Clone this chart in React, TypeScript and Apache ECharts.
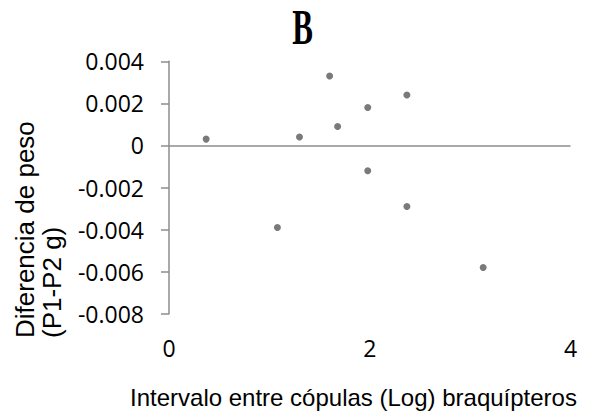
import React, { useEffect, useRef } from "react";
import * as echarts from "echarts";

const panelTitle = "B";
const xTitle = "Intervalo entre cópulas (Log) braquípteros";
const yTitleLines = ["Diferencia de peso", "(P1-P2 g)"];

const xValues = [0.37, 1.3, 1.6, 1.68, 1.98, 2.37, 1.98, 1.08, 2.37, 3.13];
const yValues = [0.0003, 0.0004, 0.0033, 0.0009, 0.0018, 0.0024, -0.0012, -0.0039, -0.0029, -0.0058];

const xMin = 0;
const xMax = 4;
const xStep = 2;
const yMin = -0.008;
const yMax = 0.004;
const yStep = 0.002;

export default function App() {
  const ref = useRef<HTMLDivElement>(null);
  useEffect(() => {
    if (!ref.current) return;
    const chart = echarts.init(ref.current, null, { renderer: "svg" });
    const points = xValues.map((x, i) => [x, yValues[i]]);
    const axisColor = "#8c8c8c";
    chart.setOption({
      animation: false,
      backgroundColor: "#ffffff",
      grid: { left: 169, right: 21.5, top: 61.3, bottom: 98.3, containLabel: false },
      xAxis: {
        type: "value",
        min: xMin,
        max: xMax,
        interval: xStep,
        axisLine: { show: false },
        axisTick: { show: false },
        splitLine: { show: false },
        axisLabel: {
          margin: 23,
          fontFamily: "Open Sans",
          fontSize: 23,
          color: "#000000",
        },
      },
      yAxis: {
        type: "value",
        min: yMin,
        max: yMax,
        interval: yStep,
        axisLine: { show: true, lineStyle: { color: axisColor, width: 1.5 } },
        axisTick: { show: true, inside: false, length: 8, lineStyle: { color: axisColor, width: 1.5 } },
        splitLine: { show: false },
        axisLabel: {
          margin: 25,
          fontFamily: "Open Sans",
          fontSize: 23,
          color: "#000000",
          formatter: (v: number) => (Math.abs(v) < 1e-12 ? "0" : v.toFixed(3)),
        },
      },
      series: [
        {
          type: "scatter",
          data: points,
          symbol: "circle",
          symbolSize: 7,
          itemStyle: { color: "#595959" },
          markLine: {
            silent: true,
            symbol: "none",
            label: { show: false },
            lineStyle: { color: axisColor, width: 1.5, type: "solid" },
            data: [{ yAxis: 0 }],
          },
        },
      ],
      graphic: [
        {
          type: "text",
          x: 302.5,
          y: 27,
          scaleX: 0.62,
          style: {
            text: panelTitle,
            fontFamily: "Liberation Serif",
            fontWeight: "bold",
            fontSize: 50,
            lineHeight: 40,
            fill: "#000000",
            textAlign: "center",
            textVerticalAlign: "middle",
          },
        },
        {
          type: "text",
          x: 353.5,
          y: 397,
          style: {
            text: xTitle,
            fontFamily: "Liberation Sans",
            fontSize: 24,
            fill: "#000000",
            textAlign: "center",
            textVerticalAlign: "middle",
          },
        },
        {
          type: "text",
          x: 38,
          y: 338,
          rotation: Math.PI / 2,
          style: {
            text: yTitleLines.join("\n"),
            fontFamily: "Liberation Sans",
            fontSize: 26,
            lineHeight: 27,
            fill: "#000000",
            textAlign: "left",
            textVerticalAlign: "middle",
          },
        },
      ],
    });
    return () => chart.dispose();
  }, []);
  return (
    <div
      ref={ref}
      style={{ position: "fixed", left: 0, top: 0, width: 592, height: 412, background: "#fff" }}
    />
  );
}
